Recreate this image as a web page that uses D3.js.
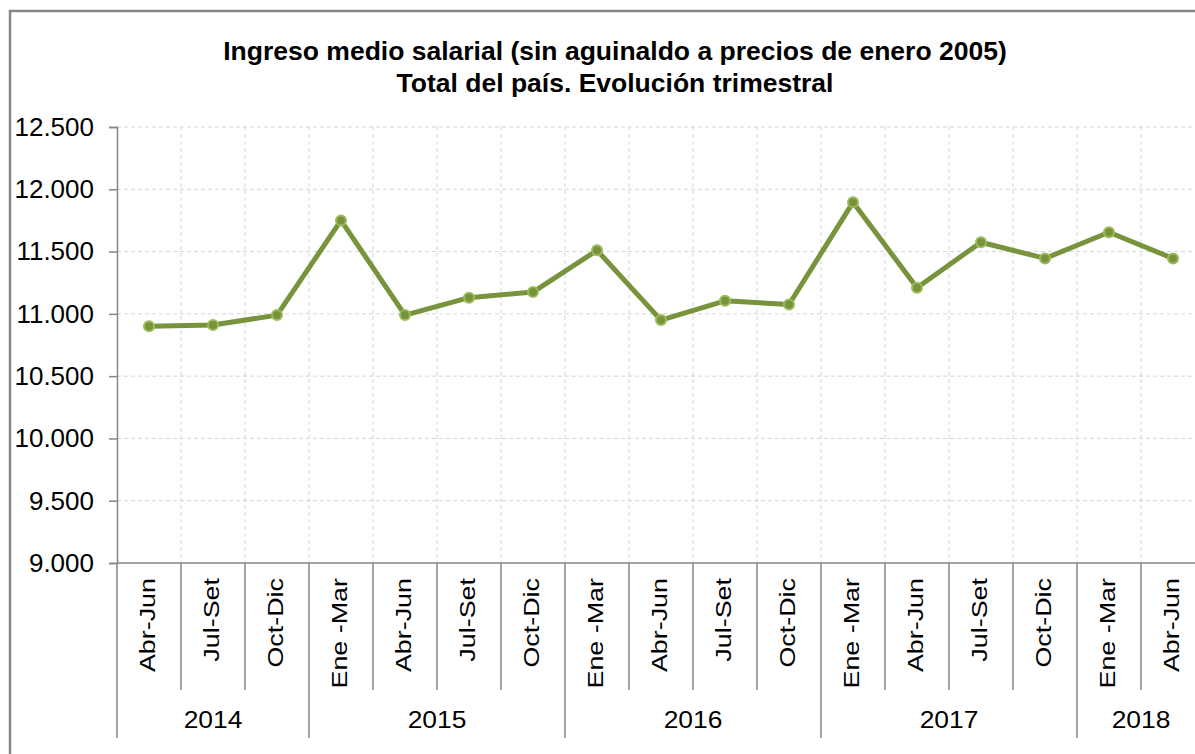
<!DOCTYPE html>
<html lang="es">
<head>
<meta charset="UTF-8">
<script src="https://cdn.jsdelivr.net/npm/d3@7"></script>
<style>
  body { margin: 0; background: #fff; }
  svg { display: block; font-family: "Liberation Sans", Arial, sans-serif; }
</style>
</head>
<body>
<svg width="1195" height="754"></svg>
<script>
// trimestres y años
const quarters = ["Abr-Jun", "Jul-Set", "Oct-Dic",
  "Ene -Mar", "Abr-Jun", "Jul-Set", "Oct-Dic",
  "Ene -Mar", "Abr-Jun", "Jul-Set", "Oct-Dic",
  "Ene -Mar", "Abr-Jun", "Jul-Set", "Oct-Dic",
  "Ene -Mar", "Abr-Jun"];
const years = ["2014", "2015", "2016", "2017", "2018"];
const yearSizes = [3, 4, 4, 4, 2];
const ingreso = [10900, 10910, 10990, 11750, 10990, 11130, 11175,
  11510, 10950, 11105, 11075, 11895, 11210, 11575, 11445, 11655, 11445];
const yTicks = [9000, 9500, 10000, 10500, 11000, 11500, 12000, 12500];

const svg = d3.select('svg');
const pLeft = 117, pRight = 1205, pTop = 127, pBottom = 563;
const axisCol = '#868686';

const x = d3.scaleBand().domain(d3.range(quarters.length)).range([pLeft, pRight]);
const y = d3.scaleLinear().domain([9000, 12500]).range([pBottom, pTop]);
const fmt = d => d3.format(',')(d).replace(/,/g, '.');

// marco exterior
svg.append('path').attr('d', `M10,754 V11 H1195`)
  .attr('fill', 'none').attr('stroke', axisCol).attr('stroke-width', 2.5);

// titulo
svg.append('text').attr('x', 615).attr('y', 60).attr('text-anchor', 'middle')
  .attr('font-size', 26.5).attr('font-weight', 'bold')
  .text('Ingreso medio salarial (sin aguinaldo a precios de enero 2005)');
svg.append('text').attr('x', 615).attr('y', 91.5).attr('text-anchor', 'middle')
  .attr('font-size', 26.5).attr('font-weight', 'bold')
  .text('Total del país. Evolución trimestral');

// grilla
const grid = svg.append('g').attr('stroke', '#d4d4d4').attr('stroke-dasharray', '4,3');
grid.selectAll('line.h').data(yTicks.slice(1)).join('line')
  .attr('x1', pLeft).attr('x2', pRight).attr('y1', d => y(d)).attr('y2', d => y(d));
grid.selectAll('line.v').data(d3.range(1, quarters.length)).join('line')
  .attr('x1', d => x(d)).attr('x2', d => x(d)).attr('y1', pTop).attr('y2', pBottom);

// eje y
const yAxis = svg.append('g').attr('transform', `translate(${pLeft},0)`)
  .call(d3.axisLeft(y).tickValues(yTicks).tickFormat(fmt).tickSize(8).tickPadding(15));
yAxis.select('.domain').attr('stroke', axisCol).attr('stroke-width', 1.5);
yAxis.selectAll('.tick line').attr('stroke', axisCol).attr('stroke-width', 1.5);
yAxis.selectAll('.tick text').attr('font-size', 26).attr('fill', '#000')
  .attr('font-family', '"Liberation Sans", Arial, sans-serif');

// eje x
svg.append('line').attr('x1', pLeft).attr('x2', pRight).attr('y1', pBottom).attr('y2', pBottom)
  .attr('stroke', axisCol).attr('stroke-width', 1.5);
svg.append('g').selectAll('line').data(d3.range(quarters.length + 1)).join('line')
  .attr('x1', d => pLeft + d * x.step()).attr('x2', d => pLeft + d * x.step())
  .attr('y1', pBottom).attr('y2', 690)
  .attr('stroke', axisCol).attr('stroke-width', 1.5);
svg.append('g').selectAll('text').data(quarters).join('text')
  .attr('transform', (d, i) => `translate(${x(i) + x.bandwidth() / 2 + 6},578) rotate(-90) scale(1.12,0.9)`)
  .attr('text-anchor', 'end').attr('font-size', 24).text(d => d);

// años
const yearStart = d3.cumsum([0, ...yearSizes]);
svg.append('g').selectAll('line').data(yearStart).join('line')
  .attr('x1', d => pLeft + d * x.step()).attr('x2', d => pLeft + d * x.step())
  .attr('y1', 690).attr('y2', 738)
  .attr('stroke', axisCol).attr('stroke-width', 1.5);
svg.append('g').selectAll('text').data(years).join('text')
  .attr('transform', (d, i) => `translate(${pLeft + (yearStart[i] + yearSizes[i] / 2) * x.step()},728) scale(1.1,1)`)
  .attr('text-anchor', 'middle').attr('font-size', 24).text(d => d);

// serie
const line = d3.line().x((d, i) => x(i) + x.bandwidth() / 2).y(d => y(d));
svg.append('path').datum(ingreso).attr('d', line)
  .attr('fill', 'none').attr('stroke', '#77933c').attr('stroke-width', 5)
  .attr('stroke-linejoin', 'round');
svg.append('g').selectAll('circle').data(ingreso).join('circle')
  .attr('cx', (d, i) => x(i) + x.bandwidth() / 2).attr('cy', d => y(d)).attr('r', 5)
  .attr('fill', '#77933c').attr('stroke', '#9bbb59').attr('stroke-width', 2);
</script>
</body>
</html>
